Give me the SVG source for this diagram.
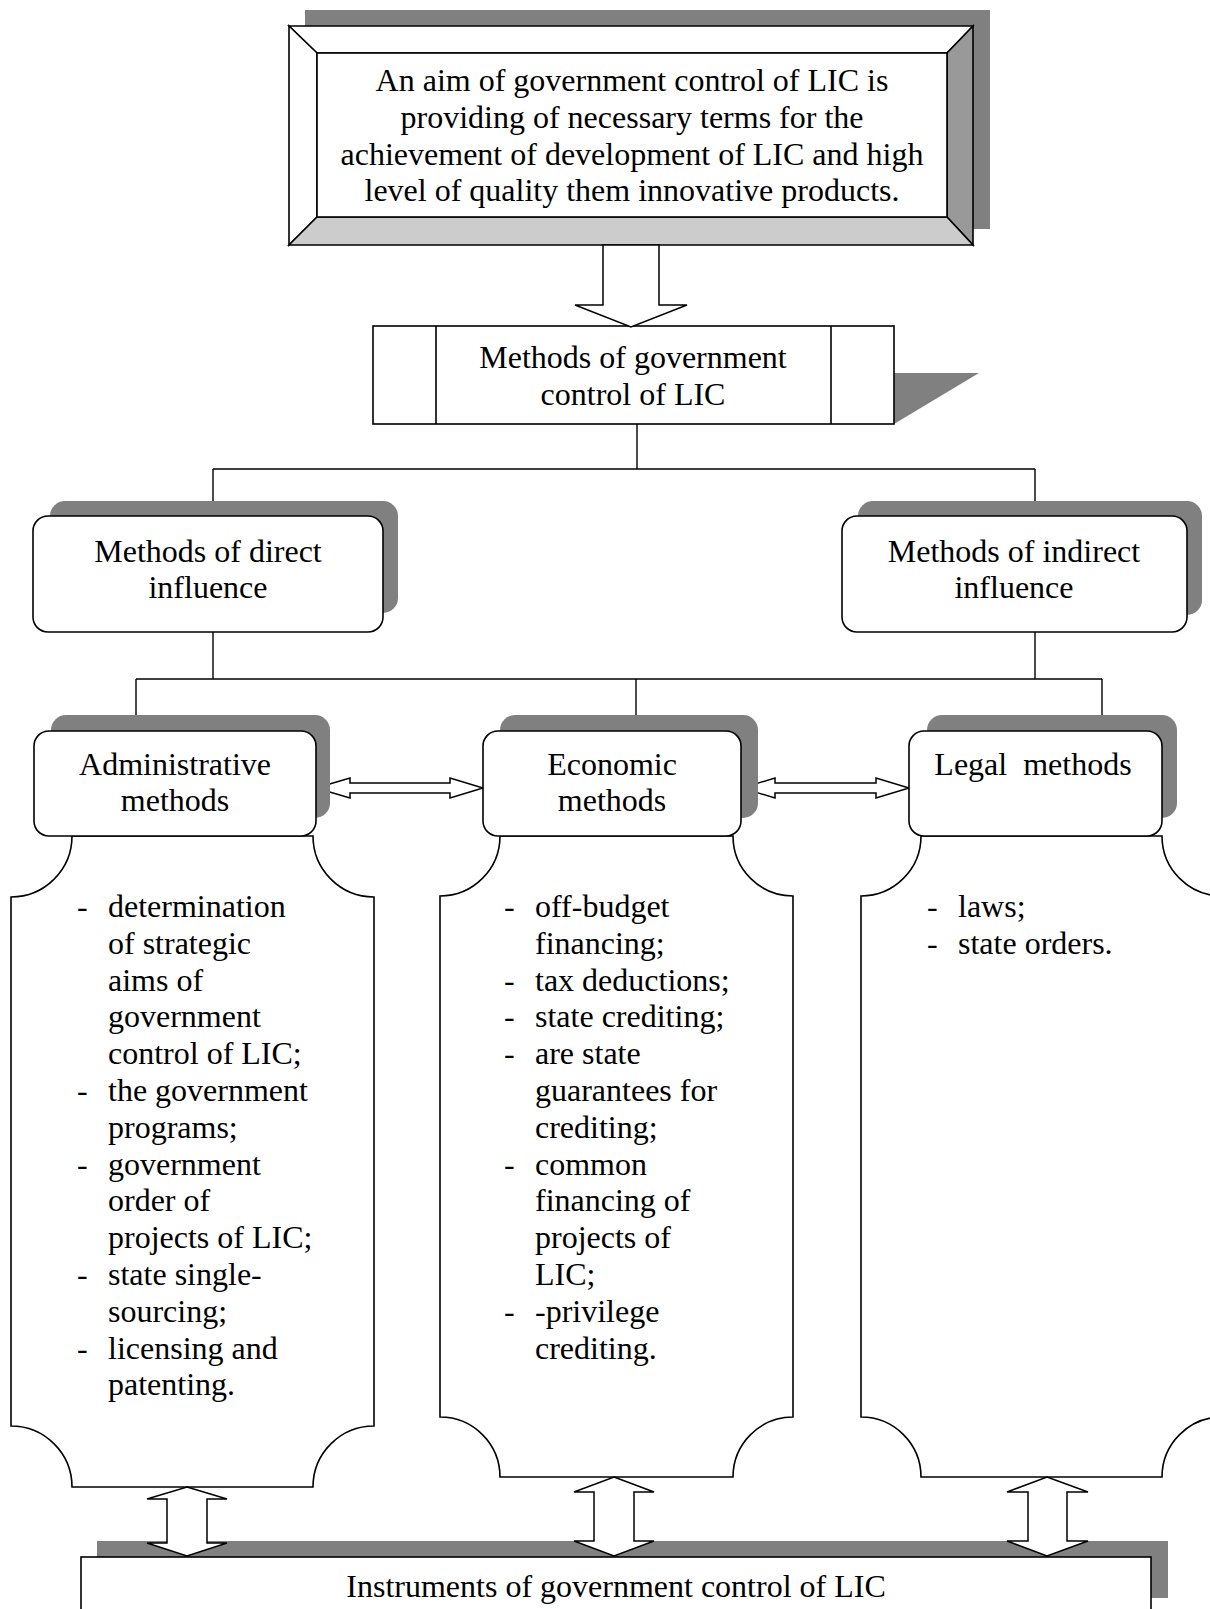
<svg xmlns="http://www.w3.org/2000/svg" width="1210" height="1609" viewBox="0 0 1210 1609">
  <style>
    .t { font-family: "Liberation Serif", "Times New Roman", serif; font-size: 32px; fill: #000; }
    .c { text-anchor: middle; }
    .pre { white-space: pre; }
    .ln { fill: #fff; stroke: #000; stroke-width: 1.6; stroke-linejoin: miter; }
    .sh { fill: #808080; stroke: none; }
    .wire { fill: none; stroke: #000; stroke-width: 1.4; }
    .blk { fill: #fff; stroke: #000; stroke-width: 1.5; stroke-linejoin: miter; }
  </style>
  <rect x="0" y="0" width="1210" height="1609" fill="#fff"/>

  <!-- Goal: bevelled frame with offset shadow -->
  <g id="goal">
    <rect class="sh" x="305" y="10" width="685" height="219"/>
    <polygon class="ln" points="289,26 973,26 947,53 317,53" fill="#fff"/>
    <polygon class="ln" points="289,26 317,53 317,217 289,245"/>
    <polygon class="ln" points="973,26 947,53 947,217 973,245" style="fill:#999"/>
    <polygon class="ln" points="289,245 317,217 947,217 973,245" style="fill:#ccc"/>
    <rect class="ln" x="317" y="53" width="630" height="164"/>
    <text class="t c" x="632" y="91">An aim of government control of LIC is</text>
    <text class="t c" x="632" y="128">providing of necessary terms for the</text>
    <text class="t c" x="632" y="165">achievement of development of LIC and high</text>
    <text class="t c" x="632" y="201">level of quality them innovative products.</text>
  </g>

  <!-- Methods: predefined-process box -->
  <g id="methods">
    <polygon class="sh" points="894,373 979,373 894,424"/>
    <rect class="ln" x="373" y="326" width="521" height="98"/>
    <line class="wire" x1="436" y1="326" x2="436" y2="424" style="stroke-width:1.6"/>
    <line class="wire" x1="831" y1="326" x2="831" y2="424" style="stroke-width:1.6"/>
    <text class="t c" x="633" y="368">Methods of government</text>
    <text class="t c" x="633" y="405">control of LIC</text>
  </g>

  <!-- Connectors -->
  <g id="connectors">
    <polygon class="blk" points="603,245 659,245 659,305 687,305 631,327 575,305 603,305"/>
    <path class="wire" d="M637 424V469M213 469H1035M213 469V501M1035 469V501"/>
    <path class="wire" d="M213 632V679M1035 632V679M136 679H1102M136 679V715M636 679V715M1102 679V715"/>
    <polygon class="blk" points="316,788 350,778 350,783 450,783 450,778 483,788 450,798 450,793 350,793 350,798"/>
    <polygon class="blk" points="742,788 775,778 775,783 876,783 876,778 909,788 876,798 876,793 775,793 775,798"/>
  </g>

  <!-- Direct influence -->
  <g id="direct">
    <rect class="sh" x="50" y="501" width="348" height="112" rx="15"/>
    <rect class="ln" x="33" y="516" width="350" height="116" rx="15"/>
    <text class="t c" x="208" y="562">Methods of direct</text>
    <text class="t c" x="208" y="598">influence</text>
  </g>

  <!-- Indirect influence -->
  <g id="indirect">
    <rect class="sh" x="858" y="501" width="344" height="114" rx="15"/>
    <rect class="ln" x="842" y="516" width="345" height="116" rx="15"/>
    <text class="t c" x="1014" y="562">Methods of indirect</text>
    <text class="t c" x="1014" y="598">influence</text>
  </g>

  <!-- Administrative methods -->
  <g id="administrative">
    <path class="ln" d="M72 836H313A61 61 0 0 0 374 897V1426A61 61 0 0 0 313 1487H72A61 61 0 0 0 11 1426V897A61 61 0 0 0 72 836Z"/>
    <rect class="sh" x="51" y="715" width="279" height="103" rx="15"/>
    <rect class="ln" x="34" y="731" width="282" height="105" rx="15"/>
    <text class="t c" x="175" y="775">Administrative</text>
    <text class="t c" x="175" y="811">methods</text>
    <g class="t">
      <text x="77" y="917">-</text><text x="108" y="917">determination</text>
      <text x="108" y="954">of strategic</text>
      <text x="108" y="991">aims of</text>
      <text x="108" y="1027">government</text>
      <text x="108" y="1064">control of LIC;</text>
      <text x="77" y="1101">-</text><text x="108" y="1101">the government</text>
      <text x="108" y="1138">programs;</text>
      <text x="77" y="1175">-</text><text x="108" y="1175">government</text>
      <text x="108" y="1211">order of</text>
      <text x="108" y="1248">projects of LIC;</text>
      <text x="77" y="1285">-</text><text x="108" y="1285">state single-</text>
      <text x="108" y="1322">sourcing;</text>
      <text x="77" y="1359">-</text><text x="108" y="1359">licensing and</text>
      <text x="108" y="1395">patenting.</text>
    </g>
  </g>

  <!-- Economic methods -->
  <g id="economic">
    <path class="ln" d="M500 836H733A60 60 0 0 0 793 896V1417A60 60 0 0 0 733 1477H500A60 60 0 0 0 440 1417V896A60 60 0 0 0 500 836Z"/>
    <rect class="sh" x="500" y="715" width="258" height="103" rx="15"/>
    <rect class="ln" x="483" y="731" width="258" height="105" rx="15"/>
    <text class="t c" x="612" y="775">Economic</text>
    <text class="t c" x="612" y="811">methods</text>
    <g class="t">
      <text x="504" y="917">-</text><text x="535" y="917">off-budget</text>
      <text x="535" y="954">financing;</text>
      <text x="504" y="991">-</text><text x="535" y="991">tax deductions;</text>
      <text x="504" y="1027">-</text><text x="535" y="1027">state crediting;</text>
      <text x="504" y="1064">-</text><text x="535" y="1064">are state</text>
      <text x="535" y="1101">guarantees for</text>
      <text x="535" y="1138">crediting;</text>
      <text x="504" y="1175">-</text><text x="535" y="1175">common</text>
      <text x="535" y="1211">financing of</text>
      <text x="535" y="1248">projects of</text>
      <text x="535" y="1285">LIC;</text>
      <text x="504" y="1322">-</text><text x="535" y="1322">-privilege</text>
      <text x="535" y="1359">crediting.</text>
    </g>
  </g>

  <!-- Legal methods -->
  <g id="legal">
    <path class="ln" d="M921 836H1162A60 60 0 0 0 1222 896V1417A60 60 0 0 0 1162 1477H921A60 60 0 0 0 861 1417V896A60 60 0 0 0 921 836Z"/>
    <rect class="sh" x="927" y="715" width="250" height="103" rx="15"/>
    <rect class="ln" x="909" y="731" width="253" height="105" rx="15"/>
    <text class="t c pre" x="1033" y="775">Legal  methods</text>
    <g class="t">
      <text x="927" y="917">-</text><text x="958" y="917">laws;</text>
      <text x="927" y="954">-</text><text x="958" y="954">state orders.</text>
    </g>
  </g>

  <!-- Instruments -->
  <g id="instruments">
    <rect class="sh" x="97" y="1541" width="1071" height="57"/>
    <rect class="ln" x="81" y="1557" width="1070" height="70"/>
    <text class="t c" x="616" y="1597">Instruments of government control of LIC</text>
  </g>

  <!-- Two-way block arrows to the instruments -->
  <g id="links">
    <polygon class="blk" points="187,1487 227,1499 207,1499 207,1543 227,1543 187,1556 147,1543 167,1543 167,1499 147,1499"/>
    <polygon class="blk" points="614,1477 654,1492 634,1492 634,1541 654,1541 614,1556 574,1541 594,1541 594,1492 574,1492"/>
    <polygon class="blk" points="1047,1477 1088,1492 1067,1492 1067,1541 1088,1541 1047,1556 1007,1541 1028,1541 1028,1492 1007,1492"/>
  </g>
</svg>
